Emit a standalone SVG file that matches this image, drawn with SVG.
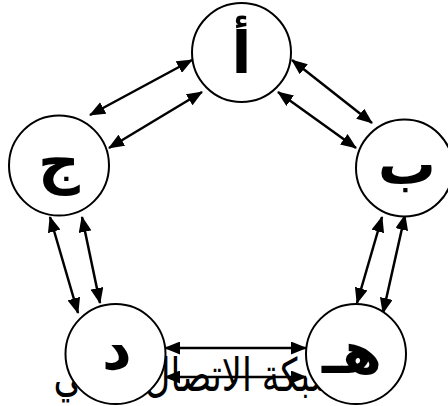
<svg xmlns="http://www.w3.org/2000/svg" width="448" height="406" viewBox="0 0 448 406">
<style>
.node circle{fill:#fff;stroke:#000;stroke-width:2}
.node text{font-family:"Liberation Sans","DejaVu Sans",sans-serif;font-weight:bold;font-size:58px;text-anchor:middle;fill:#000}
.conn line{stroke:#000;stroke-width:2.5;marker-start:url(#ah);marker-end:url(#ah)}
.cap{font-family:"Liberation Sans","DejaVu Sans",sans-serif;font-size:46px;fill:#000}
</style>
<defs>
<marker id="ah" viewBox="0 0 16 13" refX="15" refY="6.5" markerWidth="16" markerHeight="13" markerUnits="userSpaceOnUse" orient="auto-start-reverse">
<path d="M0,0 L16,6.5 L0,13 z" fill="#000"/>
</marker>
</defs>
<rect width="448" height="406" fill="#fff"/>
<g id="connectors" class="conn">
<line x1="90" y1="115" x2="192" y2="60"/>
<line x1="109" y1="148" x2="202" y2="92"/>
<line x1="292" y1="60" x2="372" y2="123"/>
<line x1="278" y1="92" x2="356" y2="148"/>
<line x1="50" y1="217" x2="78" y2="313"/>
<line x1="82" y1="217" x2="100" y2="303"/>
<line x1="382" y1="217" x2="357" y2="303"/>
<line x1="405" y1="215" x2="383" y2="313"/>
<line x1="165" y1="348" x2="306" y2="348"/>
<line x1="165" y1="377" x2="306" y2="377"/>
</g>
<text id="caption" class="cap" x="197" y="391" text-anchor="middle" direction="rtl" textLength="287" lengthAdjust="spacingAndGlyphs">شبكة الاتصال الكلي</text>
<g id="node-alef" class="node"><circle cx="241.5" cy="52.5" r="49.5"/><text x="241.5" y="73">أ</text></g>
<g id="node-ba" class="node"><circle cx="404.5" cy="168" r="48.5"/><text x="407" y="184">ب</text></g>
<g id="node-jim" class="node"><circle cx="59" cy="165.5" r="50"/><text x="59" y="182">ج</text></g>
<g id="node-dal" class="node"><circle cx="115.5" cy="354" r="50"/><text x="117" y="369">د</text></g>
<g id="node-ha" class="node"><circle cx="356" cy="354" r="50"/><text x="352" y="373">هـ</text></g>
</svg>
